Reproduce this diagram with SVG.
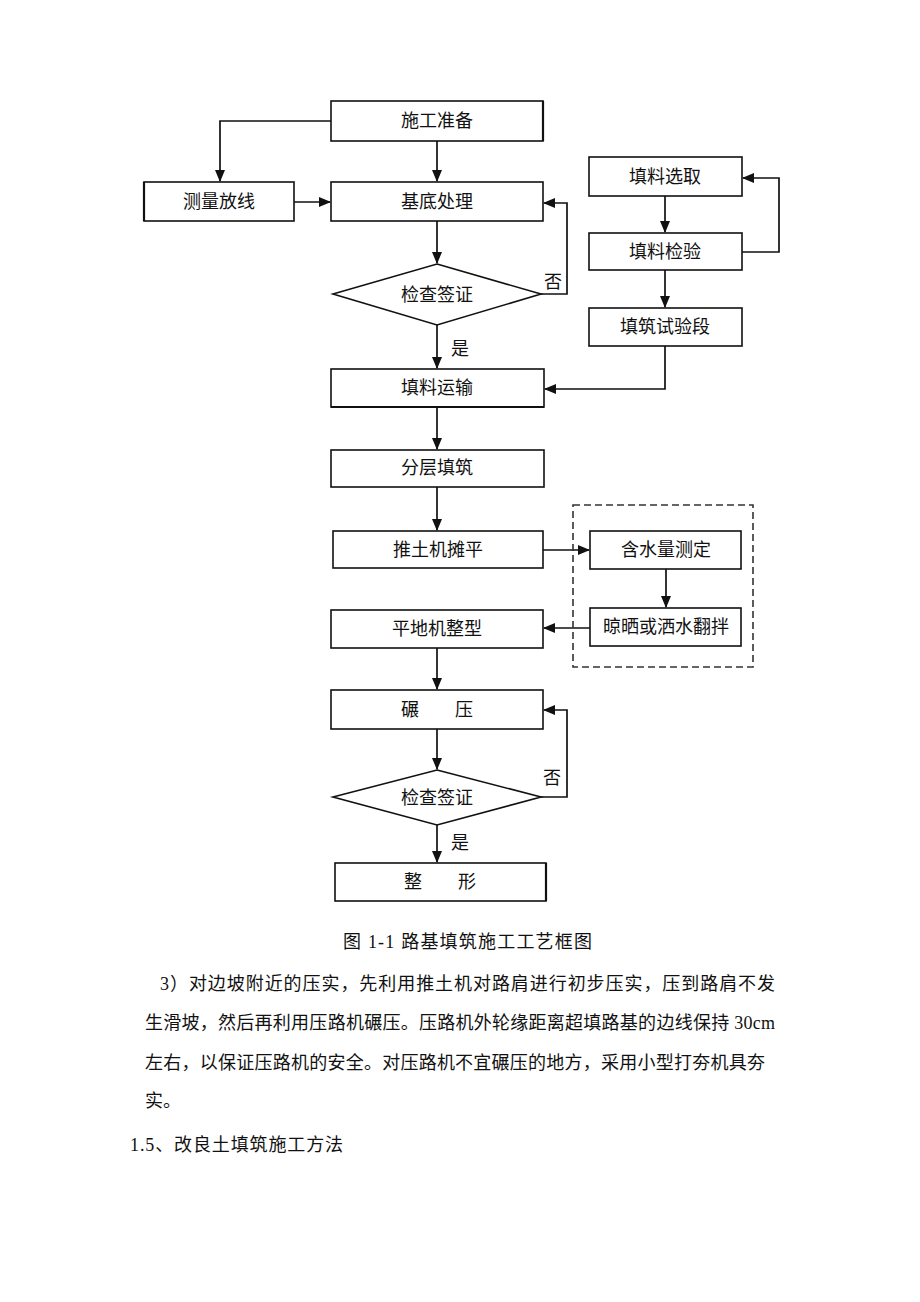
<svg xmlns="http://www.w3.org/2000/svg" width="920" height="1302" viewBox="0 0 920 1302">
<defs>
<marker id="ah" markerWidth="12" markerHeight="10" refX="11" refY="5" orient="auto" markerUnits="userSpaceOnUse">
<path d="M0,0 L12,5 L0,10 z" fill="#111"/>
</marker>
<style>
.box{fill:#fff;stroke:#111;stroke-width:1.6}
.sh{fill:none;stroke:#111;stroke-width:2.2}
.t{font-family:"Liberation Serif","Noto Sans CJK SC",serif;font-size:18px;fill:#111;text-anchor:middle;dominant-baseline:central}
.c{fill:none;stroke:#111;stroke-width:1.7;marker-end:url(#ah)}
.p{font-family:"Liberation Serif","Noto Sans CJK SC",serif;font-size:18px;fill:#111}
</style>
</defs>
<rect width="920" height="1302" fill="#fff"/>
<g id="connectors">
<path class="c" d="M331,121 H220 V181"/>
<path class="c" d="M437,141 V181"/>
<path class="c" d="M294,202 H330"/>
<path class="c" d="M437,221 V263"/>
<path class="c" d="M541,294 H567 V203 H544"/>
<path class="c" d="M437,325 V368"/>
<path class="c" d="M665,196 V232"/>
<path class="c" d="M742,252 H779 V178 H743"/>
<path class="c" d="M665,270 V307"/>
<path class="c" d="M665,346 V389 H545"/>
<path class="c" d="M437,407 V449"/>
<path class="c" d="M437,487 V530"/>
<path class="c" d="M543,550 H589"/>
<path class="c" d="M666,569 V607"/>
<path class="c" d="M590,628 H544"/>
<path class="c" d="M437,648 V689"/>
<path class="c" d="M437,729 V769"/>
<path class="c" d="M541,797 H567 V710 H544"/>
<path class="c" d="M437,825 V862"/>
<text class="t" x="553" y="282">否</text>
<text class="t" x="460" y="349">是</text>
<text class="t" x="552" y="778">否</text>
<text class="t" x="460" y="843">是</text>
</g>
<g id="n1"><rect class="box" x="331" y="101" width="212" height="40"/><path class="sh" d="M543,101 V141"/><text class="t" x="437" y="121">施工准备</text></g>
<g id="n2"><rect class="box" x="144" y="182" width="150" height="39"/><path class="sh" d="M144,182 V221"/><text class="t" x="219" y="202">测量放线</text></g>
<g id="n3"><rect class="box" x="331" y="182" width="212" height="39"/><text class="t" x="437" y="202">基底处理</text></g>
<g id="n4"><polygon class="box" points="437,264 541,294 437,325 333,294"/><text class="t" x="437" y="295">检查签证</text></g>
<g id="n5"><rect class="box" x="331" y="369" width="213" height="38"/><path class="sh" d="M331,407 H544"/><text class="t" x="437" y="388">填料运输</text></g>
<g id="n6"><rect class="box" x="331" y="450" width="213" height="37"/><text class="t" x="437" y="468">分层填筑</text></g>
<g id="n7"><rect class="box" x="333" y="531" width="210" height="37"/><text class="t" x="438" y="550">推土机摊平</text></g>
<g id="n8"><rect class="box" x="331" y="610" width="212" height="38"/><text class="t" x="437" y="629">平地机整型</text></g>
<g id="n9"><rect class="box" x="331" y="690" width="212" height="39"/><text class="t" x="437" y="710">碾　　压</text></g>
<g id="n10"><polygon class="box" points="437,770 541,797 437,825 333,797"/><text class="t" x="437" y="798">检查签证</text></g>
<g id="n11"><rect class="box" x="335" y="863" width="211" height="38"/><path class="sh" d="M546,863 V901"/><text class="t" x="440" y="882">整　　形</text></g>
<g id="n12"><rect class="box" x="589" y="157" width="153" height="39"/><text class="t" x="665" y="177">填料选取</text></g>
<g id="n13"><rect class="box" x="589" y="233" width="153" height="37"/><text class="t" x="665" y="252">填料检验</text></g>
<g id="n14"><rect class="box" x="589" y="308" width="153" height="38"/><text class="t" x="665" y="327">填筑试验段</text></g>
<g id="group"><rect x="573" y="505" width="180" height="162" fill="none" stroke="#333" stroke-width="1.6" stroke-dasharray="7,4"/></g>
<g id="n15"><rect class="box" x="590" y="531" width="151" height="38"/><text class="t" x="666" y="550">含水量测定</text></g>
<g id="n16"><rect class="box" x="590" y="608" width="151" height="38"/><text class="t" x="666" y="627">晾晒或洒水翻拌</text></g>
<g id="text">
<text class="p" x="343" y="948" font-size="17" textLength="249" lengthAdjust="spacing">图 1-1 路基填筑施工工艺框图</text>
<text class="p" x="160" y="990" textLength="615" lengthAdjust="spacing">3）对边坡附近的压实，先利用推土机对路肩进行初步压实，压到路肩不发</text>
<text class="p" x="145" y="1029" textLength="630" lengthAdjust="spacing">生滑坡，然后再利用压路机碾压。压路机外轮缘距离超填路基的边线保持 30cm</text>
<text class="p" x="145" y="1069" textLength="620" lengthAdjust="spacing">左右，以保证压路机的安全。对压路机不宜碾压的地方，采用小型打夯机具夯</text>
<text class="p" x="145" y="1107">实。</text>
<text class="p" x="130" y="1151" textLength="213" lengthAdjust="spacing">1.5、改良土填筑施工方法</text>
</g>
</svg>
